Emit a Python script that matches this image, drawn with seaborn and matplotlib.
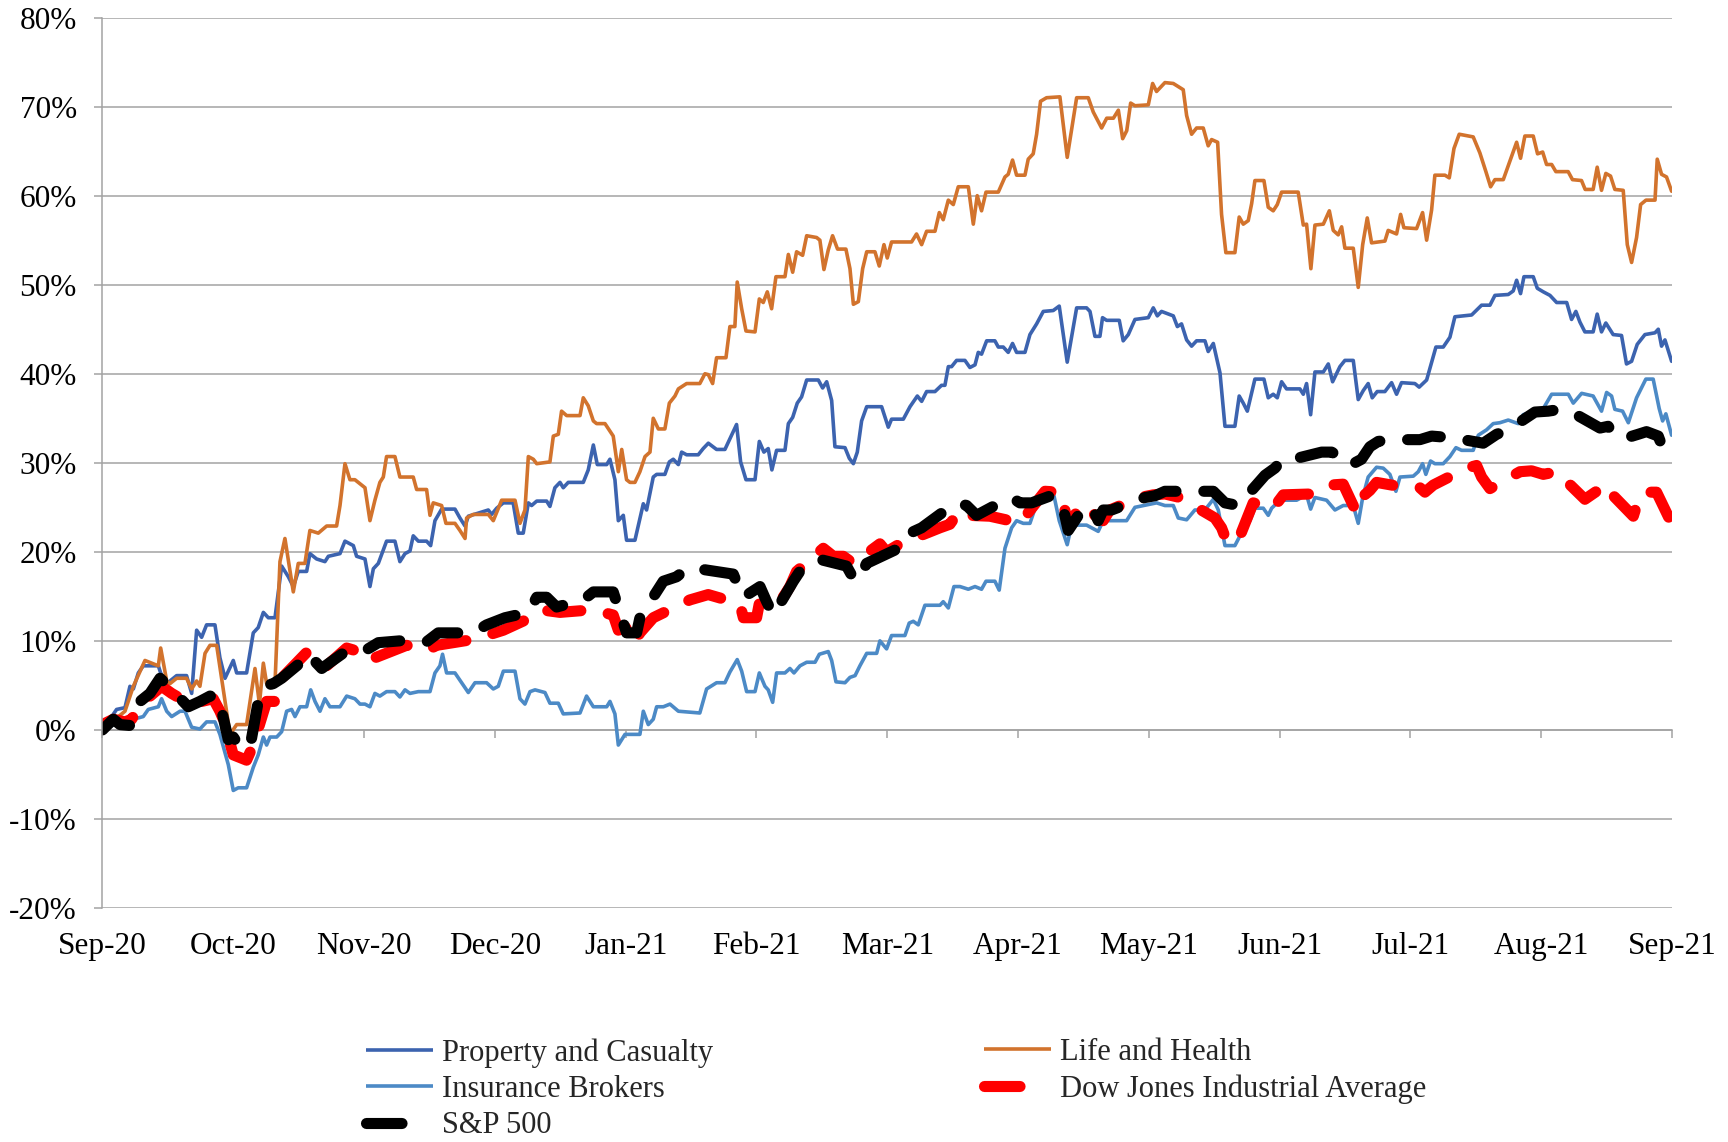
import matplotlib
matplotlib.use("Agg")
import matplotlib.pyplot as plt
import seaborn as sns
from matplotlib.lines import Line2D
from matplotlib.ticker import FuncFormatter

# ---------------- data (x in months since Sep-20, y in %) ----------------
month_labels = ["Sep-20", "Oct-20", "Nov-20", "Dec-20", "Jan-21", "Feb-21", "Mar-21",
                "Apr-21", "May-21", "Jun-21", "Jul-21", "Aug-21", "Sep-21"]
y_ticks = [-20, -10, 0, 10, 20, 30, 40, 50, 60, 70, 80]

property_casualty = [(0.0,0.0),(0.108,2.3),(0.172,2.5),(0.21,4.9),(0.236,4.6),(0.274,6.4),(0.312,7.2),(0.427,7.2),(0.445,6.4),(0.491,5.2),(0.567,6.1),(0.643,6.1),(0.682,4.1),(0.72,11.2),(0.758,10.4),(0.796,11.8),(0.86,11.8),(0.898,8.1),(0.937,5.8),(1.0,7.8),(1.026,6.4),(1.102,6.4),(1.153,10.9),(1.191,11.5),(1.23,13.2),(1.268,12.6),(1.319,12.6),(1.37,18.4),(1.421,17.2),(1.459,16.1),(1.497,17.8),(1.561,17.8),(1.586,19.8),(1.637,19.2),(1.701,18.9),(1.727,19.5),(1.816,19.8),(1.854,21.2),(1.918,20.7),(1.943,19.5),(2.007,19.2),(2.045,16.1),(2.071,18.1),(2.109,18.7),(2.172,21.2),(2.236,21.2),(2.274,18.9),(2.313,19.8),(2.351,20.1),(2.376,21.8),(2.415,21.2),(2.478,21.2),(2.509,20.7),(2.542,23.5),(2.593,24.8),(2.695,24.8),(2.733,23.8),(2.772,22.9),(2.797,24.0),(2.95,24.7),(2.975,24.2),(3.014,24.9),(3.065,25.5),(3.14,25.5),(3.179,22.1),(3.217,22.1),(3.256,25.5),(3.281,25.2),(3.32,25.7),(3.396,25.7),(3.421,25.1),(3.459,27.2),(3.498,27.8),(3.523,27.2),(3.561,27.8),(3.676,27.8),(3.714,29.2),(3.753,32.0),(3.783,29.8),(3.855,29.8),(3.88,30.4),(3.918,28.1),(3.944,23.5),(3.982,24.1),(4.007,21.3),(4.071,21.3),(4.135,25.4),(4.16,24.7),(4.211,28.4),(4.237,28.7),(4.3,28.7),(4.334,30.1),(4.364,30.4),(4.403,29.8),(4.428,31.2),(4.466,30.9),(4.555,30.9),(4.593,31.6),(4.632,32.2),(4.695,31.5),(4.759,31.5),(4.797,32.7),(4.848,34.3),(4.879,30.1),(4.92,28.1),(4.989,28.1),(5.022,32.4),(5.057,31.2),(5.09,31.6),(5.118,29.2),(5.154,31.4),(5.218,31.4),(5.244,34.4),(5.277,35.1),(5.312,36.7),(5.345,37.4),(5.384,39.3),(5.473,39.3),(5.506,38.4),(5.537,39.1),(5.575,37.0),(5.6,31.8),(5.677,31.7),(5.71,30.5),(5.741,29.9),(5.771,31.2),(5.804,34.7),(5.843,36.3),(5.957,36.3),(6.008,34.0),(6.033,34.9),(6.123,34.9),(6.174,36.3),(6.23,37.5),(6.263,36.9),(6.301,38.0),(6.365,38.0),(6.415,38.7),(6.441,38.7),(6.467,40.8),(6.492,40.8),(6.53,41.5),(6.594,41.5),(6.632,40.7),(6.671,41.0),(6.696,42.4),(6.721,42.2),(6.76,43.7),(6.823,43.7),(6.849,43.0),(6.887,43.0),(6.925,42.4),(6.958,43.4),(6.989,42.4),(7.053,42.4),(7.091,44.4),(7.142,45.6),(7.193,47.0),(7.269,47.1),(7.315,47.6),(7.376,41.3),(7.448,47.4),(7.524,47.4),(7.55,47.0),(7.588,44.2),(7.626,44.2),(7.646,46.3),(7.677,46.0),(7.774,46.0),(7.804,43.7),(7.843,44.4),(7.894,46.1),(7.996,46.3),(8.034,47.4),(8.065,46.5),(8.097,47.0),(8.187,46.5),(8.218,45.3),(8.25,45.6),(8.289,43.8),(8.327,43.1),(8.365,43.7),(8.429,43.7),(8.454,42.5),(8.493,43.4),(8.544,40.1),(8.582,34.1),(8.658,34.1),(8.691,37.5),(8.722,36.7),(8.753,35.8),(8.811,39.4),(8.88,39.4),(8.913,37.3),(8.951,37.7),(8.982,37.3),(9.015,39.1),(9.053,38.3),(9.155,38.3),(9.181,37.7),(9.206,38.9),(9.237,35.4),(9.27,40.2),(9.334,40.2),(9.372,41.1),(9.405,39.1),(9.461,40.8),(9.499,41.5),(9.563,41.5),(9.601,37.1),(9.639,38.1),(9.677,38.9),(9.708,37.3),(9.746,38.0),(9.805,38.0),(9.856,39.0),(9.894,37.7),(9.932,39.0),(10.034,38.9),(10.067,38.5),(10.124,39.3),(10.162,41.3),(10.195,43.0),(10.251,43.0),(10.302,44.1),(10.34,46.4),(10.468,46.6),(10.544,47.7),(10.608,47.7),(10.646,48.8),(10.748,48.9),(10.786,49.3),(10.812,50.5),(10.842,49.0),(10.868,50.9),(10.939,50.9),(10.97,49.6),(11.016,49.2),(11.067,48.8),(11.118,48.0),(11.195,48.0),(11.232,46.1),(11.265,47.0),(11.296,45.8),(11.334,44.7),(11.397,44.7),(11.428,46.7),(11.461,44.7),(11.494,45.7),(11.55,44.4),(11.614,44.3),(11.652,41.1),(11.691,41.4),(11.734,43.3),(11.793,44.4),(11.87,44.6),(11.895,45.0),(11.92,43.1),(11.946,43.8),(11.997,41.4)]

life_health = [(0.0,0.0),(0.172,2.1),(0.236,4.9),(0.325,7.8),(0.427,7.2),(0.445,9.2),(0.491,5.5),(0.516,5.2),(0.567,5.8),(0.643,5.8),(0.682,4.6),(0.72,5.5),(0.745,4.9),(0.784,8.6),(0.822,9.5),(0.873,9.5),(0.975,-0.5),(1.026,0.6),(1.102,0.6),(1.166,6.9),(1.2,2.9),(1.23,7.5),(1.255,5.2),(1.319,5.2),(1.357,18.9),(1.395,21.5),(1.459,15.5),(1.497,18.7),(1.548,18.7),(1.586,22.4),(1.65,22.1),(1.714,22.9),(1.79,22.9),(1.816,25.2),(1.854,29.9),(1.892,28.1),(1.93,28.1),(2.007,27.2),(2.045,23.5),(2.083,25.8),(2.121,27.8),(2.147,28.4),(2.172,30.7),(2.236,30.7),(2.274,28.4),(2.376,28.4),(2.402,27.0),(2.478,27.0),(2.504,24.1),(2.529,25.5),(2.593,25.2),(2.626,23.2),(2.695,23.2),(2.733,22.4),(2.772,21.5),(2.784,23.8),(2.835,24.2),(2.95,24.2),(2.988,23.5),(3.052,25.8),(3.154,25.8),(3.192,23.2),(3.23,24.7),(3.256,30.7),(3.294,30.4),(3.32,29.9),(3.421,30.1),(3.447,33.0),(3.485,33.2),(3.51,35.8),(3.549,35.3),(3.651,35.3),(3.676,37.3),(3.714,36.4),(3.753,34.7),(3.778,34.4),(3.842,34.4),(3.905,33.0),(3.944,29.0),(3.97,31.5),(4.007,28.1),(4.033,27.8),(4.071,27.8),(4.109,29.0),(4.148,30.7),(4.186,31.2),(4.211,35.0),(4.25,33.8),(4.3,33.8),(4.334,36.7),(4.377,37.5),(4.403,38.3),(4.466,38.9),(4.567,38.9),(4.606,40.0),(4.632,39.9),(4.665,38.9),(4.695,41.8),(4.767,41.8),(4.797,45.3),(4.835,45.3),(4.853,50.3),(4.887,47.3),(4.92,44.8),(4.989,44.7),(5.022,48.4),(5.052,48.0),(5.083,49.2),(5.116,47.3),(5.149,50.9),(5.218,50.9),(5.244,53.4),(5.277,51.4),(5.307,53.7),(5.353,53.3),(5.384,55.5),(5.46,55.3),(5.485,55.0),(5.516,51.7),(5.549,53.9),(5.582,55.5),(5.62,54.0),(5.684,54.0),(5.715,51.8),(5.741,47.8),(5.779,48.1),(5.812,51.8),(5.843,53.7),(5.906,53.7),(5.939,52.1),(5.975,54.5),(6.0,53.0),(6.033,54.8),(6.186,54.8),(6.224,55.7),(6.263,54.5),(6.301,56.0),(6.365,56.0),(6.398,58.1),(6.428,57.3),(6.467,59.5),(6.505,59.0),(6.543,61.0),(6.62,61.0),(6.658,56.8),(6.688,60.0),(6.721,58.3),(6.755,60.4),(6.849,60.4),(6.9,62.1),(6.925,62.4),(6.958,64.0),(6.989,62.3),(7.053,62.3),(7.078,64.1),(7.116,64.7),(7.142,66.9),(7.172,70.6),(7.218,71.0),(7.32,71.1),(7.376,64.3),(7.448,71.0),(7.537,71.0),(7.575,69.4),(7.639,67.6),(7.678,68.7),(7.729,68.7),(7.767,69.6),(7.8,66.4),(7.831,67.3),(7.861,70.4),(7.894,70.1),(7.996,70.2),(8.029,72.6),(8.059,71.7),(8.123,72.7),(8.187,72.6),(8.263,71.9),(8.289,69.0),(8.327,66.9),(8.365,67.6),(8.416,67.6),(8.454,65.6),(8.48,66.3),(8.526,66.0),(8.556,57.9),(8.589,53.6),(8.658,53.6),(8.691,57.6),(8.722,56.8),(8.76,57.2),(8.786,59.1),(8.811,61.7),(8.88,61.7),(8.913,58.7),(8.951,58.3),(8.982,59.0),(9.015,60.4),(9.142,60.4),(9.181,56.7),(9.206,56.8),(9.239,51.8),(9.27,56.7),(9.334,56.8),(9.38,58.3),(9.41,56.1),(9.448,55.6),(9.474,56.5),(9.499,54.1),(9.563,54.1),(9.601,49.7),(9.635,54.5),(9.67,57.5),(9.703,54.7),(9.805,54.9),(9.83,56.1),(9.894,55.7),(9.925,57.9),(9.95,56.4),(10.047,56.3),(10.093,58.1),(10.124,55.0),(10.162,58.4),(10.187,62.3),(10.264,62.3),(10.297,62.0),(10.333,65.3),(10.373,66.9),(10.48,66.6),(10.531,64.8),(10.577,62.7),(10.613,61.0),(10.646,61.8),(10.71,61.8),(10.761,63.9),(10.812,66.0),(10.842,64.2),(10.875,66.7),(10.939,66.7),(10.972,64.7),(11.011,64.9),(11.041,63.5),(11.08,63.5),(11.112,62.7),(11.206,62.7),(11.239,61.8),(11.308,61.7),(11.336,60.7),(11.397,60.7),(11.428,63.2),(11.461,60.6),(11.494,62.5),(11.53,62.2),(11.563,60.7),(11.627,60.6),(11.658,54.5),(11.691,52.5),(11.729,55.3),(11.76,59.0),(11.801,59.5),(11.87,59.5),(11.887,64.1),(11.92,62.4),(11.958,62.1),(11.997,60.5)]

insurance_brokers = [(0.0,0.0),(0.134,0.9),(0.236,1.2),(0.312,1.5),(0.35,2.3),(0.427,2.6),(0.452,3.5),(0.491,2.1),(0.529,1.5),(0.593,2.1),(0.631,2.1),(0.682,0.3),(0.745,0.1),(0.796,0.9),(0.86,0.9),(0.898,-0.5),(0.962,-3.9),(1.0,-6.8),(1.038,-6.5),(1.102,-6.5),(1.153,-4.2),(1.191,-2.8),(1.23,-0.8),(1.255,-1.7),(1.281,-0.8),(1.332,-0.8),(1.37,-0.2),(1.408,2.1),(1.446,2.3),(1.472,1.5),(1.51,2.6),(1.561,2.6),(1.592,4.5),(1.625,3.2),(1.663,2.1),(1.701,3.5),(1.739,2.6),(1.816,2.6),(1.867,3.8),(1.93,3.5),(1.969,2.9),(2.007,2.9),(2.045,2.6),(2.083,4.1),(2.121,3.8),(2.172,4.3),(2.236,4.3),(2.274,3.7),(2.313,4.5),(2.351,4.1),(2.415,4.3),(2.504,4.3),(2.542,6.4),(2.58,7.2),(2.6,8.5),(2.631,6.4),(2.695,6.4),(2.797,4.2),(2.848,5.3),(2.937,5.3),(2.988,4.6),(3.026,4.9),(3.065,6.6),(3.154,6.6),(3.192,3.5),(3.23,2.9),(3.269,4.3),(3.307,4.5),(3.383,4.2),(3.421,3.0),(3.485,3.0),(3.523,1.8),(3.651,1.9),(3.701,3.8),(3.753,2.6),(3.855,2.6),(3.88,3.2),(3.918,1.8),(3.944,-1.7),(3.995,-0.5),(4.109,-0.5),(4.135,2.1),(4.173,0.6),(4.211,1.2),(4.237,2.6),(4.288,2.6),(4.339,2.9),(4.403,2.1),(4.567,1.9),(4.619,4.6),(4.695,5.3),(4.759,5.3),(4.797,6.5),(4.853,7.9),(4.887,6.6),(4.925,4.3),(4.989,4.3),(5.022,6.4),(5.065,4.9),(5.09,4.5),(5.124,3.1),(5.154,6.4),(5.218,6.4),(5.256,6.9),(5.287,6.4),(5.333,7.2),(5.384,7.6),(5.448,7.6),(5.481,8.5),(5.549,8.8),(5.575,7.8),(5.608,5.4),(5.677,5.3),(5.715,5.9),(5.754,6.1),(5.791,7.2),(5.843,8.6),(5.919,8.6),(5.944,10.0),(5.995,9.1),(6.033,10.6),(6.135,10.6),(6.168,12.0),(6.199,12.2),(6.237,11.8),(6.288,14.0),(6.403,14.0),(6.428,14.4),(6.467,13.7),(6.51,16.1),(6.556,16.1),(6.62,15.8),(6.671,16.1),(6.721,15.8),(6.755,16.7),(6.823,16.7),(6.856,15.7),(6.9,20.4),(6.951,22.7),(6.989,23.5),(7.04,23.2),(7.091,23.2),(7.142,25.4),(7.213,26.8),(7.269,26.7),(7.315,23.5),(7.376,20.8),(7.409,23.0),(7.524,23.0),(7.613,22.3),(7.651,23.5),(7.83,23.5),(7.894,25.0),(8.059,25.5),(8.123,25.2),(8.187,25.2),(8.225,23.8),(8.289,23.6),(8.352,24.7),(8.429,24.7),(8.493,25.9),(8.531,24.7),(8.582,20.7),(8.658,20.7),(8.697,21.8),(8.773,23.5),(8.811,24.9),(8.875,24.9),(8.913,24.1),(8.939,24.9),(9.003,25.8),(9.13,25.8),(9.206,26.4),(9.237,24.8),(9.27,26.1),(9.359,25.8),(9.423,24.7),(9.486,25.2),(9.563,25.2),(9.601,23.2),(9.635,26.1),(9.677,28.4),(9.741,29.5),(9.792,29.4),(9.843,28.7),(9.889,26.8),(9.92,28.4),(10.022,28.5),(10.06,29.0),(10.093,29.9),(10.118,28.7),(10.154,30.2),(10.187,29.9),(10.251,29.9),(10.302,30.7),(10.348,31.7),(10.391,31.4),(10.48,31.4),(10.519,33.1),(10.582,33.7),(10.633,34.4),(10.684,34.5),(10.748,34.8),(10.824,34.4),(10.862,35.4),(10.939,35.8),(11.016,36.1),(11.08,37.7),(11.207,37.7),(11.245,36.7),(11.309,37.8),(11.397,37.5),(11.461,35.8),(11.5,37.9),(11.538,37.5),(11.563,36.0),(11.622,35.8),(11.666,34.5),(11.729,37.3),(11.8,39.4),(11.856,39.4),(11.902,36.1),(11.928,34.7),(11.953,35.5),(11.997,33.1)]

dow_jones = [(0.0,0.6),(0.083,1.2),(0.172,0.9),(0.223,1.2),(0.3,3.0),(0.38,4.0),(0.452,4.9),(0.529,4.1),(0.669,2.9),(0.847,3.5),(0.898,2.1),(0.924,1.2),(1.0,-2.8),(1.102,-3.4),(1.153,-1.7),(1.255,3.2),(1.332,3.2),(1.37,5.8),(1.574,8.9),(1.663,8.1),(1.714,7.2),(1.867,9.2),(2.007,8.6),(2.045,8.9),(2.083,8.1),(2.325,9.5),(2.478,8.9),(2.555,9.5),(2.809,10.1),(2.937,10.6),(3.065,11.2),(3.243,12.4),(3.345,13.5),(3.498,13.2),(3.753,13.5),(3.905,12.9),(3.944,11.2),(4.0,11.5),(4.058,9.5),(4.109,10.9),(4.211,12.6),(4.491,14.6),(4.631,15.2),(4.772,14.6),(4.874,14.1),(4.9,12.6),(5.001,12.6),(5.027,14.6),(5.129,14.6),(5.205,14.9),(5.256,16.1),(5.307,17.8),(5.511,20.4),(5.588,19.5),(5.664,19.5),(5.741,18.7),(5.944,20.9),(5.995,20.0),(6.097,20.9),(6.403,22.7),(6.479,23.1),(6.556,24.7),(6.62,24.1),(6.785,24.0),(6.938,23.5),(7.014,23.2),(7.206,26.8),(7.32,26.7),(7.358,24.7),(7.384,22.7),(7.473,25.2),(7.55,24.9),(7.588,24.1),(7.651,23.5),(7.702,24.7),(7.932,26.1),(8.034,26.4),(8.123,26.5),(8.238,26.1),(8.505,23.8),(8.556,22.7),(8.595,21.2),(8.684,21.3),(8.798,25.5),(8.875,25.2),(8.951,24.9),(9.028,26.4),(9.244,26.5),(9.321,26.9),(9.385,27.5),(9.486,27.6),(9.588,24.4),(9.626,26.1),(9.69,26.9),(9.741,27.8),(10.009,27.1),(10.073,27.2),(10.111,26.7),(10.175,27.5),(10.43,29.4),(10.506,29.7),(10.544,28.4),(10.608,27.1),(10.837,29.0),(10.926,29.1),(11.016,28.7),(11.118,29.0),(11.334,25.9),(11.423,26.8),(11.461,25.9),(11.525,26.7),(11.704,24.0),(11.755,26.4),(11.806,26.7),(11.882,26.7),(11.997,23.2)]

sp500 = [(0.0,0.0),(0.083,1.2),(0.134,0.6),(0.21,0.5),(0.287,3.2),(0.363,4.1),(0.44,5.8),(0.5,5.0),(0.656,2.6),(0.745,3.2),(0.822,3.8),(0.886,3.8),(0.962,-1.1),(1.0,-0.8),(1.051,-1.9),(1.128,-1.9),(1.191,3.2),(1.23,4.9),(1.306,5.2),(1.37,5.8),(1.51,7.5),(1.574,8.6),(1.637,7.5),(1.676,6.9),(1.867,8.9),(2.007,8.9),(2.109,9.8),(2.351,10.1),(2.478,9.9),(2.567,10.9),(2.835,10.9),(2.937,11.8),(3.077,12.6),(3.256,13.2),(3.32,14.9),(3.396,14.9),(3.472,13.8),(3.676,14.6),(3.753,15.5),(3.905,15.5),(3.969,12.6),(4.007,10.9),(4.084,10.9),(4.109,12.6),(4.288,16.7),(4.39,17.2),(4.466,18.1),(4.555,18.1),(4.823,17.5),(4.887,15.2),(4.9,14.9),(5.027,16.1),(5.078,14.4),(5.129,12.9),(5.282,16.7),(5.345,18.1),(5.434,18.4),(5.498,19.1),(5.689,18.4),(5.753,16.7),(5.791,17.2),(5.842,18.7),(6.059,20.2),(6.135,20.8),(6.174,22.1),(6.263,22.7),(6.467,24.9),(6.543,25.5),(6.607,25.2),(6.683,24.1),(6.861,25.5),(6.951,26.1),(7.014,25.5),(7.104,25.5),(7.269,26.4),(7.32,25.5),(7.358,24.1),(7.384,22.4),(7.511,25.2),(7.575,24.7),(7.613,23.5),(7.651,24.7),(7.715,24.7),(7.97,26.1),(8.047,26.3),(8.123,26.8),(8.225,26.8),(8.493,26.8),(8.582,25.5),(8.684,25.2),(8.888,28.6),(8.964,29.4),(9.028,30.5),(9.13,30.5),(9.321,31.2),(9.397,31.2),(9.461,30.7),(9.537,29.7),(9.626,30.4),(9.69,31.8),(9.754,32.4),(9.856,32.6),(10.073,32.6),(10.162,33.0),(10.328,32.8),(10.557,32.2),(10.659,33.2),(10.748,33.7),(10.952,35.7),(11.054,35.8),(11.143,36.0),(11.232,35.7),(11.449,33.9),(11.512,34.1),(11.563,33.0),(11.652,32.8),(11.741,33.2),(11.805,33.5),(11.895,33.0),(11.933,31.5),(11.997,31.5)]

series_names = ["Property and Casualty", "Life and Health", "Insurance Brokers",
                "Dow Jones Industrial Average", "S&P 500"]

# ---------------- style ----------------
sns.set_style("white")
plt.rcParams['font.family'] = ['Liberation Serif', 'DejaVu Serif']
plt.rcParams['axes.unicode_minus'] = False

GRID = "#A3A3A3"
FS = 22.5
LFS = 22

fig = plt.figure(figsize=(17.28, 11.42), dpi=100)
ax = fig.add_axes([0.0593, 0.2049, 0.9083, 0.7797])

styles = [
    (property_casualty, "#3C63AF", 2.6, "-"),
    (life_health, "#D2732D", 2.6, "-"),
    (insurance_brokers, "#4C8AC6", 2.6, "-"),
    (dow_jones, "#FF0000", 8.0, (0, (3, 2.5))),
    (sp500, "#000000", 8.0, (0, (3, 2.5))),
]

handles = []
for pts, color, lw, ls in styles:
    xs = [p[0] for p in pts]
    ys = [p[1] for p in pts]
    sns.lineplot(x=xs, y=ys, ax=ax, color=color, linewidth=lw, linestyle=ls,
                 estimator=None, sort=False, legend=False,
                 dash_capstyle="round", solid_capstyle="round",
                 solid_joinstyle="round", dash_joinstyle="round")
    line = ax.lines[-1]
    if ls == "-":
        handles.append(Line2D([], [], color=color, linewidth=lw, solid_capstyle="butt"))
    else:
        # legend shows a single rounded dash, as in the original
        handles.append(Line2D([], [], color=color, linewidth=lw,
                              linestyle=(0, (3.2, 20)), dash_capstyle="round"))

ax.set_xlim(0, 12)
ax.set_ylim(-20, 80)
ax.set_xticks(range(len(month_labels)))
ax.set_xticklabels(month_labels)
ax.set_yticks(y_ticks)
ax.yaxis.set_major_formatter(FuncFormatter(lambda v, p: f"{v:.0f}%"))
ax.set_xlabel("")
ax.set_ylabel("")

ax.grid(axis="y", color=GRID, linewidth=1.1)
ax.grid(axis="x", visible=False)
ax.set_axisbelow(True)
for s in ["top", "right", "bottom"]:
    ax.spines[s].set_visible(False)
ax.spines["left"].set_color(GRID)
ax.spines["left"].set_linewidth(1.1)

ax.tick_params(axis="x", bottom=False, length=0, pad=17, labelsize=FS, labelcolor="black")
ax.tick_params(axis="y", left=True, direction="out", length=5.5, width=1.1,
               color=GRID, pad=13, labelsize=FS, labelcolor="black")

# month tick marks on the 0% line (labels stay at the bottom)
sec = ax.secondary_xaxis(0.2)
sec.set_xticks(range(len(month_labels)))
sec.tick_params(axis="x", bottom=True, direction="out", length=6, width=1.1,
                color=GRID, labelbottom=False, labeltop=False)
for s in sec.spines.values():
    s.set_color(GRID)
    s.set_linewidth(1.1)

# legend: two columns placed like the original
leg_kw = dict(loc="upper left", frameon=False, fontsize=LFS, handlelength=2.18,
              handletextpad=0.3, labelspacing=0.24, borderpad=0, borderaxespad=0)
legA = fig.legend([handles[0], handles[2], handles[4]],
                  [series_names[0], series_names[2], series_names[4]],
                  bbox_to_anchor=(0.2118, 0.091), **leg_kw)
legB = fig.legend([handles[1], handles[3]],
                  [series_names[1], series_names[3]],
                  bbox_to_anchor=(0.5694, 0.091), **leg_kw)

fig.savefig("out.png", dpi=100, facecolor="white")
